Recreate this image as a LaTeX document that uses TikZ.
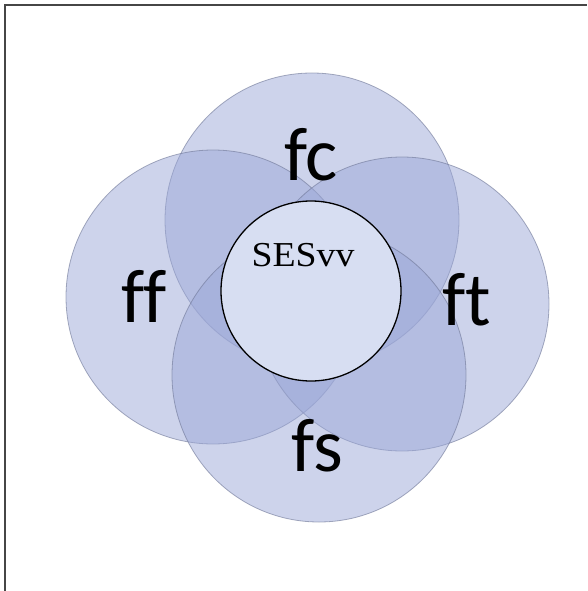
\documentclass[tikz,border=0pt]{standalone}
\usepackage{fontspec}
\usepackage{tikz}
\usetikzlibrary{positioning}
\newfontfamily\petalfont[Ligatures=NoCommon]{Carlito}
\newfontfamily\corefont{Liberation Serif}
\definecolor{petalblue}{RGB}{155,167,215}
\definecolor{petaledge}{RGB}{110,118,150}
\definecolor{corefill}{RGB}{215,222,242}
\definecolor{framegray}{RGB}{70,70,70}

\begin{document}
\begin{tikzpicture}[x=1pt,y=-1pt,
            % Style for the four outer circles
            petal/.style={circle, draw=petaledge, fill=petalblue, fill opacity=0.5, draw opacity=0.6, line width=0.8pt, minimum size=294pt, inner sep=0pt},
            % Style for the inner circle
            core/.style={circle, draw=black, fill=corefill, line width=1.3pt, minimum size=180pt, inner sep=0pt},
            % Text styles
            plabel/.style={font=\petalfont\fontsize{76}{76}\selectfont, inner sep=0pt},
            clabel/.style={font=\corefont\fontsize{35}{35}\selectfont, inner sep=0pt, xscale=1.08},
            frame/.style={draw=framegray, line width=2pt}
        ]
            \useasboundingbox (0,0) rectangle (587,591);

            % --- 1. FRAME (left and top edges only) ---
            \draw[frame] (5,591) -- (5,5) -- (587,5);

            % --- 2. OUTER CIRCLES ---
            \node[petal] (cfc) at (312,220) {};
            \node[petal] (cff) at (213,297) {};
            \node[petal] (cft) at (402,304) {};
            \node[petal] (cfs) at (319,375) {};

            % --- 3. INNER CIRCLE ---
            \node[core] (ses) at (311,291) {};
            \node[clabel] (lses) at (303,255) {SESvv};

            % --- 4. LABELS ---
            \node[plabel] (lfc) at (311,155) {fc};
            \node[plabel] (lff) at (144,296) {ff};
            \node[plabel] (lft) at (467,300) {ft};
            \node[plabel] (lfs) at (317,446) {fs};

        \end{tikzpicture}
\end{document}
